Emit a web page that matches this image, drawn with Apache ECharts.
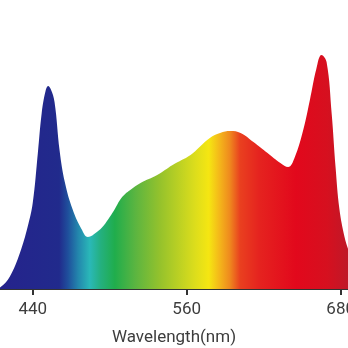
<!DOCTYPE html>
<html>
<head>
<meta charset="utf-8">
<script src="https://cdn.jsdelivr.net/npm/echarts@6/dist/echarts.min.js"></script>
<style>html,body{margin:0;padding:0;background:#fff}#c{width:348px;height:348px}</style>
</head>
<body>
<div id="c"></div>
<script>
var wavelengths = [400, 410, 415, 422, 430, 436, 440, 444, 447, 450, 452, 454, 457, 461, 465, 471, 478, 483, 490, 495, 500, 504, 508, 512, 516, 524, 537, 549, 563, 570, 578, 586, 594, 602, 612, 623, 633, 639, 644, 651, 656, 661, 665, 669, 673, 676, 679, 683, 686, 690, 695, 700];
var intensity = [0, 0.5, 2, 12, 36, 62, 86, 136, 176, 198, 203, 200, 187, 138, 107, 80, 60, 52, 57, 63, 72, 80, 89, 95, 99, 106, 114, 124, 134, 142, 151, 156, 158, 156, 147, 136, 126, 122, 131, 160, 189, 220, 234, 227, 175, 122, 80, 52, 39, 25, 12, 5];
var tickLabels = [440, 560, 680];

var data = wavelengths.map(function (w, i) { return [w, intensity[i]]; });
var chart = echarts.init(document.getElementById('c'));
var grad = new echarts.graphic.LinearGradient(0, 0, 348, 0, [
  {offset: 0.000, color: '#25238c'},
  {offset: 0.170, color: '#212a8c'},
  {offset: 0.195, color: '#1f4f9c'},
  {offset: 0.225, color: '#2387ad'},
  {offset: 0.258, color: '#2ab8b8'},
  {offset: 0.290, color: '#24b07e'},
  {offset: 0.330, color: '#20ad4c'},
  {offset: 0.390, color: '#5cb540'},
  {offset: 0.460, color: '#95c22c'},
  {offset: 0.560, color: '#dcdd1c'},
  {offset: 0.600, color: '#f5e612'},
  {offset: 0.630, color: '#f4b81a'},
  {offset: 0.660, color: '#ef8a1e'},
  {offset: 0.690, color: '#e9401f'},
  {offset: 0.745, color: '#e5231f'},
  {offset: 0.850, color: '#e2081c'},
  {offset: 0.940, color: '#d6101f'},
  {offset: 1.000, color: '#bf1828'}
], true);
chart.setOption({
  animation: false,
  grid: {left: 0, right: 0, top: 0, bottom: 59, containLabel: false, outerBoundsMode: 'none'},
  xAxis: {
    type: 'value', min: 414.5, max: 685.7,
    name: 'Wavelength(nm)', nameLocation: 'middle', nameGap: 40,
    nameTextStyle: {fontFamily: 'Roboto', fontSize: 17, color: '#3d3d3d'},
    axisLine: {show: true, lineStyle: {color: '#333', width: 2}},
    axisTick: {show: true, length: 6, customValues: tickLabels, lineStyle: {color: '#333', width: 2}},
    axisLabel: {customValues: tickLabels, fontFamily: 'Roboto', fontSize: 17, color: '#3d3d3d', margin: 12, hideOverlap: false},
    splitLine: {show: false}
  },
  yAxis: {type: 'value', min: 0, max: 289, show: false, splitLine: {show: false}},
  series: [{
    type: 'line', data: data, smooth: 0.4, symbol: 'none', clip: true,
    lineStyle: {width: 0},
    areaStyle: {color: grad, opacity: 1}
  }]
});
</script>
</body>
</html>
